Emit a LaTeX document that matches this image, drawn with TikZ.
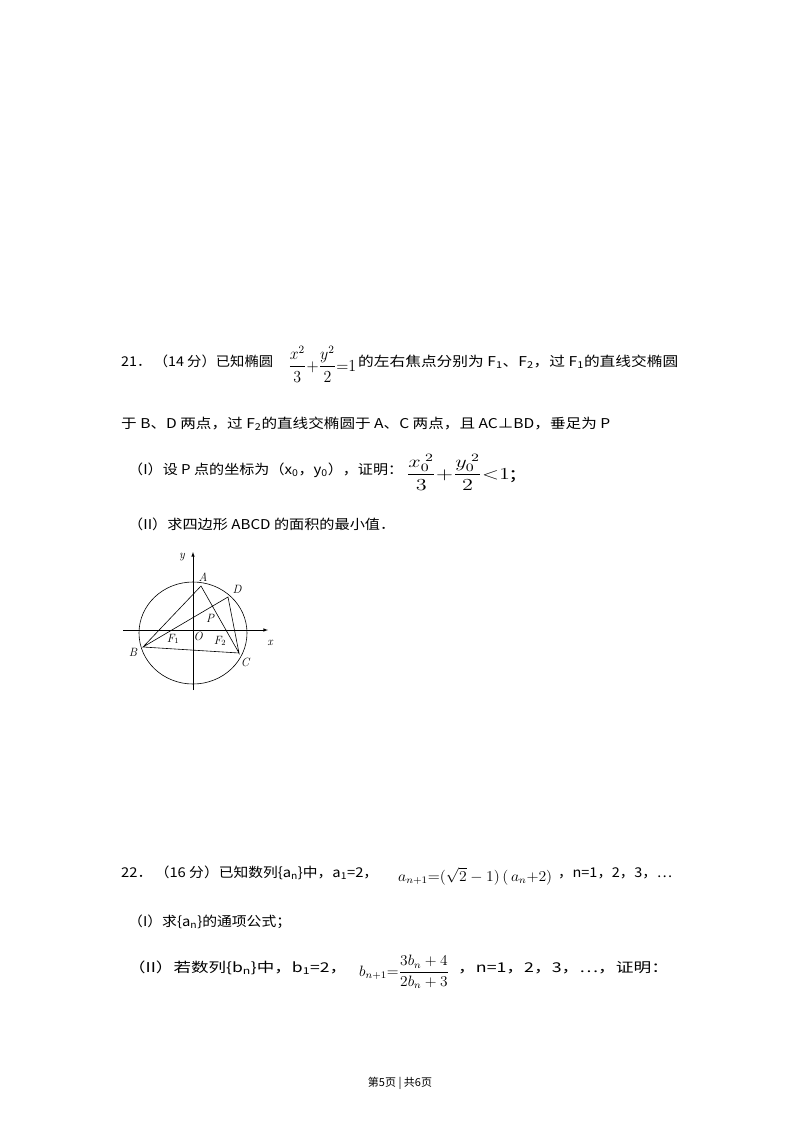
\documentclass[tikz,border=0pt]{standalone}
\usepackage{amsmath}
\usepackage{graphicx}
\usepackage{fontspec}
\setmainfont{Noto Sans CJK SC}
\newfontfamily\lmr{Latin Modern Roman}
\tikzset{txt/.style={anchor=base west,inner sep=0pt,font=\fontsize{13.5}{16}\selectfont},
 mth/.style={anchor=base west,inner sep=0pt,font=\fontsize{12}{14}\selectfont},
 lbl/.style={inner sep=0pt,font=\fontsize{12}{13}\selectfont\lmr\itshape},
 fig/.style={line width=0.6pt}}
\newcommand{\sbs}[1]{\textsubscript{#1}}
\newcommand{\fitw}[2]{\resizebox{#1pt}{\height}{#2}}
\newcommand{\mbig}[2]{\resizebox{#1pt}{!}{\scalebox{1}[1.35]{#2}}}
\begin{document}
\begin{tikzpicture}[x=1pt,y=-1pt]
\useasboundingbox[fill=white] (0,0) rectangle (800,1132);
% question 21
\node[txt] (q1a) at (121,366) {\fitw{152}{21．\,（14 分）已知椭圆}};
\node[mth] (q1f) at (288,371) {\fitw{68}{\scalebox{1}[1.4]{$\dfrac{x^2}{3}{+}\dfrac{y^2}{2}{=}1$}}};
\node[txt] (q1b) at (358,366) {\fitw{320}{的左右焦点分别为 F\sbs{1}、F\sbs{2}，过 F\sbs{1}的直线交椭圆}};
\node[txt] (q2) at (121,428) {\fitw{489}{于 B、D 两点，过 F\sbs{2}的直线交椭圆于 A、C 两点，且 AC⊥BD，垂足为 P}};
\node[txt] (q3a) at (128,474) {\fitw{275}{（I）设 P 点的坐标为（x\sbs{0}，y\sbs{0}），证明：}};
\node[mth] (q3f) at (406,479) {\fitw{110}{\scalebox{1}[1.4]{$\dfrac{x_0^{\;2}}{3}{+}\dfrac{y_0^{\;2}}{2}{<}1$;}}};
\node[txt] (q4) at (128,529) {\fitw{267}{（II）求四边形 ABCD 的面积的最小值．}};
% figure
\draw[fig] (193,633) ellipse [x radius=54,y radius=51];
\draw[fig,-latex] (123,630) -- (268,630);
\draw[fig,-latex] (193,690) -- (193,552);
\coordinate (A) at (201,586);
\coordinate (D) at (228,597);
\coordinate (B) at (143,647);
\coordinate (C) at (239,653);
\draw[fig] (B) -- (A) -- (C) -- (D) -- (B) -- (C);
\node[lbl] (ly) at (182,557) {y};
\node[lbl] (lA) at (203,577) {A};
\node[lbl] (lD) at (237,589) {D};
\node[lbl] (lP) at (210,618) {P};
\node[lbl] (lF1) at (173,639) {F$_1$};
\node[lbl] (lO) at (198,636) {O};
\node[lbl] (lF2) at (220,641) {F$_2$};
\node[lbl] (lB) at (133,652) {B};
\node[lbl] (lC) at (245,662) {C};
\node[lbl] (lx) at (270,643) {x};
% question 22
\node[txt] (r1a) at (121,877) {\fitw{257}{22．\,（16 分）已知数列\{a\sbs{n}\}中，a\sbs{1}=2，}};
\node[mth] (r1f) at (398,881) {\fitw{154}{\scalebox{1}[1.25]{$a_{n+1}{=}(\sqrt{2}-1)\,(\,a_n{+}2)$}}};
\node[txt] (r1b) at (558,877) {\fitw{114}{，n=1，2，3，…}};
\node[txt] (r2) at (128,926) {\fitw{163}{（I）求\{a\sbs{n}\}的通项公式；}};
\node[txt] (r3a) at (128,972) {\fitw{219}{（II）若数列\{b\sbs{n}\}中，b\sbs{1}=2，}};
\node[mth] (r3f) at (359,976) {\fitw{90}{\scalebox{1}[1.25]{$b_{n+1}{=}\dfrac{3b_n+4}{2b_n+3}$}}};
\node[txt] (r3b) at (458,972) {\fitw{211}{，n=1，2，3，…，证明：}};
\node[inner sep=0pt,font=\fontsize{11}{12}\selectfont] (foot) at (400,1083) {第5页 | 共6页};
\end{tikzpicture}
\end{document}
